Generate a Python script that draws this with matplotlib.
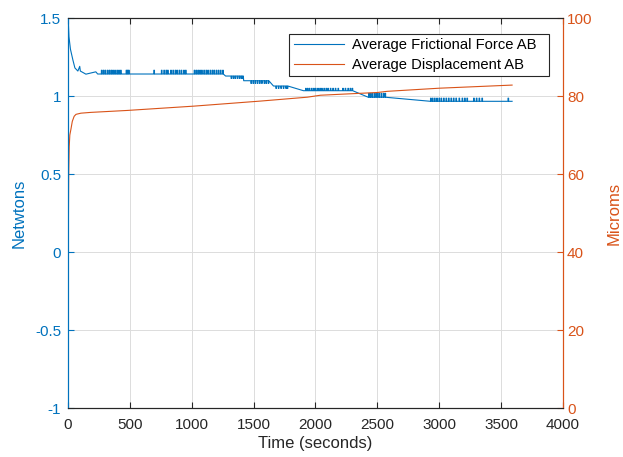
import numpy as np
import matplotlib
matplotlib.use('Agg')
import matplotlib.pyplot as plt

plt.rcParams['font.family'] = ['Liberation Sans', 'DejaVu Sans']

blue = '#0072BD'
orange = '#D95319'
dark = '#262626'

# frictional force: plateaus (t_start, t_end, level) in Newtons
force_start = [(0.0, -0.57), (2.0, 1.49), (8.0, 1.38), (20.0, 1.30),
               (40.0, 1.23), (56.0, 1.18), (80.0, 1.16), (95.0, 1.19),
               (100.0, 1.16), (145.0, 1.14), (225.0, 1.155)]
force_levels = [(240, 1274, 1.141), (1274, 1420, 1.128), (1420, 1661, 1.098),
                (1661, 1903, 1.064), (1903, 2427, 1.034), (2427, 2927, 0.992),
                (2927, 3589, 0.966)]
# short excursions inside plateaus: (time, value)
force_spikes = (
    [(t, 1.165) for t in [270, 285, 300, 318, 333, 348, 362, 378, 395, 410, 425,
                          470, 480, 490, 694, 755, 775, 792, 805, 830, 848,
                          866, 880, 898, 915, 935, 950, 1020, 1035, 1050, 1065,
                          1080, 1098, 1115, 1130, 1148, 1165, 1180, 1198, 1215,
                          1232, 1250]]
    + [(t, 1.113) for t in [1318, 1335, 1350, 1368, 1385, 1400, 1412]]
    + [(t, 1.081) for t in [1478, 1495, 1512, 1530, 1548, 1565, 1585, 1600, 1618]]
    + [(t, 1.049) for t in [1680, 1700, 1720, 1740, 1760, 1772]]
    + [(t, 1.049) for t in [1920, 1935, 1950, 1968, 1985, 2000, 2018, 2035, 2050,
                            2068, 2085, 2100, 2120, 2140, 2160, 2182, 2220,
                            2240, 2262, 2280, 2296]]
    + [(t, 1.017) for t in [2430, 2445, 2460, 2478, 2495, 2512, 2530, 2548, 2562]]
    + [(t, 0.986) for t in [2930, 2945, 2962, 2980, 2998, 3015, 3035, 3055, 3075,
                            3095, 3115, 3135, 3160, 3185, 3205, 3224, 3278,
                            3300, 3322, 3345, 3556]]
)

# average displacement (microns)
disp_t = [0, 3, 6, 10, 15, 24, 35, 50, 65, 105, 185, 480, 1016, 1556, 1935,
          2040, 2500, 2580, 3000, 3589]
disp_v = [17, 45, 60, 67, 70, 71.5, 73.5, 74.8, 75.3, 75.6, 75.8, 76.3, 77.4,
          78.7, 79.7, 80.2, 80.9, 81.2, 82.0, 82.8]

# build the step series for force
ft, fv = [], []
for t, v in force_start:
    ft.append(t); fv.append(v)
spike_w = 5.0
for t0, t1, lev in force_levels:
    sp = sorted([s for s in force_spikes if t0 <= s[0] < t1])
    ft.append(t0); fv.append(lev)
    for ts, vs in sp:
        ft += [ts, ts, ts + spike_w, ts + spike_w]
        fv += [lev, vs, vs, lev]
ft.append(force_levels[-1][1]); fv.append(force_levels[-1][2])

fig = plt.figure(figsize=(6.23, 4.57), dpi=100)
ax = fig.add_axes([0.1091, 0.1072, 0.7945, 0.8534])
ax2 = ax.twinx()

l1, = ax.plot(ft, fv, color=blue, lw=0.8, label='Average Frictional Force AB  ')
l2, = ax2.plot(disp_t, disp_v, color=orange, lw=0.8, label='Average Displacement AB  ')

ax.set_xlim(0, 4000)
ax.set_ylim(-1, 1.5)
ax2.set_ylim(0, 100)
ax.set_xticks(np.arange(0, 4001, 500))
ax.set_yticks([-1, -0.5, 0, 0.5, 1, 1.5])
ax.set_yticklabels(['-1', '-0.5', '0', '0.5', '1', '1.5'])
ax2.set_yticks(np.arange(0, 101, 20))

ax.grid(True, color='#dcdcdc', lw=0.7)
ax.set_axisbelow(True)

ax.tick_params(axis='x', direction='in', top=True, colors=dark, labelsize=11,
               length=4, pad=7)
ax.tick_params(axis='y', direction='in', colors=blue, labelsize=11, length=4, pad=5)
ax2.tick_params(axis='y', direction='in', colors=orange, labelsize=11, length=4, pad=3)

for a in (ax, ax2):
    a.spines['top'].set_color(dark)
    a.spines['bottom'].set_color(dark)
    a.spines['left'].set_color(blue)
    a.spines['right'].set_color(orange)
    for s in a.spines.values():
        s.set_linewidth(0.8)

ax.set_xlabel('Time (seconds)', fontsize=12, color=dark, labelpad=3)
ax.set_ylabel('Netwtons', fontsize=12, color=blue, labelpad=6)
ax2.set_ylabel('Microms', fontsize=12, color=orange, labelpad=10)

leg = ax2.legend(handles=[l1, l2], loc='upper right', bbox_to_anchor=(0.972, 0.959),
                 borderaxespad=0, fontsize=10.6, fancybox=False, edgecolor=dark,
                 framealpha=1, handlelength=3.4, borderpad=0.3, labelspacing=0.38,
                 handletextpad=0.55)
leg.get_frame().set_linewidth(0.8)

fig.savefig('out.png', dpi=100)
